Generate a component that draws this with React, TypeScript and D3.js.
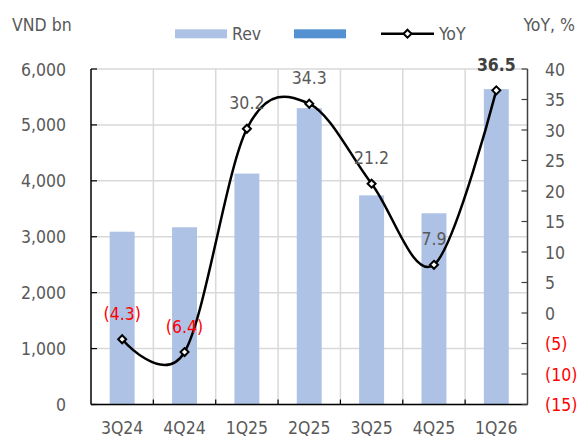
import React from "react";
import * as d3 from "d3";

// Quarterly revenue (VND bn) and year-on-year growth (%)
const quarters = ["3Q24", "4Q24", "1Q25", "2Q25", "3Q25", "4Q25", "1Q26"];
const revenue = [3090, 3170, 4130, 5300, 3740, 3420, 5640];
const yoy = [-4.3, -6.4, 30.2, 34.3, 21.2, 7.9, 36.5];
const leftTicks = [0, 1000, 2000, 3000, 4000, 5000, 6000];
const rightTicks = [-15, -10, -5, 0, 5, 10, 15, 20, 25, 30, 35, 40];

const W = 579;
const H = 438;
const FONT = "'DejaVu Sans', Verdana, sans-serif";
const FS = 17.5;
const TEXT = "#595959";
const RED = "#FF0000";
const BAR = "#AEC2E6";
const BAR2 = "#5591D0";
const GRID = "#D9D9D9";

const plot = { left: 91, right: 527.5, top: 69, bottom: 404.5 };

const fmtLeft = d3.format(",");
const fmtPct = (v: number) => (v < 0 ? `(${Math.abs(v)})` : `${v}`);
const fmtLabel = (v: number) => (v < 0 ? `(${Math.abs(v).toFixed(1)})` : v.toFixed(1));

function Diamond({ x, y, r = 4 }: { x: number; y: number; r?: number }) {
  return (
    <path
      d={`M${x},${y - r}L${x + r},${y}L${x},${y + r}L${x - r},${y}Z`}
      fill="#fff"
      stroke="#000"
      strokeWidth={2}
    />
  );
}

export default function App() {
  const x = d3
    .scaleBand<string>()
    .domain(quarters)
    .range([plot.left, plot.right])
    .paddingInner(0.6)
    .paddingOuter(0.3);
  const step = x.step();
  const x0 = plot.left;
  const cx = (q: string) => (x(q) as number) + x.bandwidth() / 2;

  const yL = d3.scaleLinear().domain([0, 6000]).range([plot.bottom, plot.top]);
  const yR = d3.scaleLinear().domain([-15, 40]).range([plot.bottom, plot.top]);

  const line = d3
    .line<number>()
    .x((_, i) => cx(quarters[i]))
    .y((d) => yR(d))
    .curve(d3.curveCardinal.tension(0));

  const boundaries = d3.range(1, quarters.length).map((i) => x0 + i * step);

  const textStyle: React.CSSProperties = { fontFamily: FONT, fontStretch: "condensed" };

  return (
    <svg
      width={W}
      height={H}
      style={{ position: "absolute", left: 0, top: 0, background: "#fff" }}
      fontSize={FS}
    >
      <rect width={W} height={H} fill="#fff" />

      {/* grid */}
      {leftTicks.map((t) => (
        <line key={`h${t}`} x1={plot.left} x2={plot.right} y1={yL(t)} y2={yL(t)} stroke={GRID} strokeWidth={1.5} />
      ))}
      {boundaries.map((b, i) => (
        <line key={`v${i}`} x1={b} x2={b} y1={plot.top} y2={plot.bottom} stroke={GRID} strokeWidth={1.5} />
      ))}

      {/* bars */}
      {revenue.map((v, i) => (
        <rect
          key={`b${i}`}
          x={x(quarters[i])}
          y={yL(v)}
          width={x.bandwidth()}
          height={yL(0) - yL(v)}
          fill={BAR}
        />
      ))}

      {/* axes */}
      <line x1={plot.left} x2={plot.left} y1={plot.top} y2={plot.bottom} stroke="#000" strokeWidth={1.5} />
      <line x1={plot.left} x2={plot.right} y1={plot.bottom} y2={plot.bottom} stroke="#000" strokeWidth={1.5} />
      <line x1={plot.right} x2={plot.right} y1={plot.top} y2={plot.bottom} stroke="#404040" strokeWidth={1.5} />
      {leftTicks.map((t) => (
        <line key={`lt${t}`} x1={plot.left} x2={plot.left + 6} y1={yL(t)} y2={yL(t)} stroke="#000" strokeWidth={1.2} />
      ))}
      {rightTicks.map((t) => (
        <line key={`rt${t}`} x1={plot.right - 6} x2={plot.right} y1={yR(t)} y2={yR(t)} stroke="#404040" strokeWidth={1.2} />
      ))}
      {boundaries.map((b, i) => (
        <line key={`bt${i}`} x1={b} x2={b} y1={plot.bottom - 5} y2={plot.bottom} stroke="#000" strokeWidth={1.2} />
      ))}

      {/* tick labels */}
      {leftTicks.map((t) => (
        <text key={`ll${t}`} x={66} y={yL(t) + 6.5} textAnchor="end" fill={TEXT} style={textStyle}>
          {fmtLeft(t)}
        </text>
      ))}
      {rightTicks.map((t) => (
        <text key={`rl${t}`} x={545} y={yR(t) + 6.5} textAnchor="start" fill={t < 0 ? RED : TEXT} style={textStyle}>
          {fmtPct(t)}
        </text>
      ))}
      {quarters.map((q) => (
        <text key={`xl${q}`} x={cx(q)} y={434} textAnchor="middle" fill={TEXT} style={textStyle}>
          {q}
        </text>
      ))}

      {/* axis titles */}
      <text x={12} y={31} fill={TEXT} style={textStyle}>VND bn</text>
      <text x={575} y={31} textAnchor="end" fill={TEXT} style={textStyle}>YoY, %</text>

      {/* legend */}
      <rect x={175} y={29.3} width={52} height={9} fill={BAR} />
      <text x={232} y={40} fill={TEXT} style={textStyle}>Rev</text>
      <rect x={294} y={29.3} width={52} height={9} fill={BAR2} />
      <line x1={381} x2={434} y1={33.7} y2={33.7} stroke="#000" strokeWidth={2.5} />
      <Diamond x={407.5} y={33.7} />
      <text x={439} y={40} fill={TEXT} style={textStyle}>YoY</text>

      {/* YoY line */}
      <path d={line(yoy) || ""} fill="none" stroke="#000" strokeWidth={2.5} />
      {yoy.map((v, i) => (
        <Diamond key={`m${i}`} x={cx(quarters[i])} y={yR(v)} />
      ))}

      {/* data labels */}
      {yoy.map((v, i) => {
        const last = i === yoy.length - 1;
        return (
          <text
            key={`dl${i}`}
            x={cx(quarters[i])}
            y={yR(v) - 19.5}
            textAnchor="middle"
            fill={v < 0 ? RED : last ? "#404040" : TEXT}
            fontWeight={last ? "bold" : "normal"}
            style={textStyle}
          >
            {fmtLabel(v)}
          </text>
        );
      })}
    </svg>
  );
}
